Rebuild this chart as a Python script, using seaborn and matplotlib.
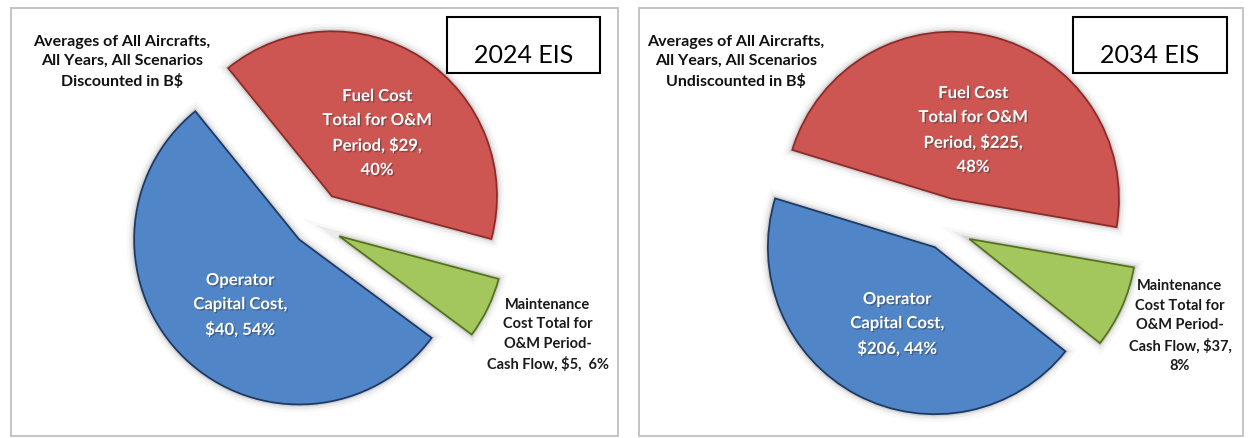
import matplotlib
matplotlib.use("Agg")
import matplotlib.pyplot as plt
import matplotlib.patheffects as pe
from matplotlib.patches import Rectangle
import seaborn as sns

sns.set_theme(style="white")
plt.rcParams["font.family"] = ["Lato", "DejaVu Sans"]

# O&M cost breakdown (B$) and shares for the two entry-into-service years
years = ["2024 EIS", "2034 EIS"]
basis = ["Discounted", "Undiscounted"]
cost_items = ["Fuel Cost", "Maintenance Cost", "Operator Capital Cost"]
costs_2024 = [29, 5, 40]
shares_2024 = [40, 6, 54]
costs_2034 = [225, 37, 206]
shares_2034 = [48, 8, 44]

fills = ["#CD5552", "#A3C65D", "#5086C8"]
edges = ["#8E2B28", "#55731F", "#1E3A64"]

W, H = 1249, 439
fig = plt.figure(figsize=(W / 100, H / 100), dpi=100)
ax = fig.add_axes([0, 0, 1, 1])


def Y(y):
    """Convert a top-down pixel row into the axes' bottom-up coordinate."""
    return H - y


panels = [
    dict(x0=11, x1=618, costs=costs_2024, shares=shares_2024, year=years[0],
         basis=basis[0], center=(314, 225), radius=165, start=129,
         explode=[0.2, 0.17, 0.13], box=(447, 600), title_x=122,
         fuel_xy=(377, 134), maint_xy=(548, 335), op_xy=(240, 306),
         maint_split=False),
    dict(x0=639, x1=1243, costs=costs_2034, shares=shares_2034, year=years[1],
         basis=basis[1], center=(945, 229), radius=167, start=163,
         explode=[0.18, 0.16, 0.13], box=(1073, 1227), title_x=736,
         fuel_xy=(973, 131), maint_xy=(1180, 326), op_xy=(897, 325),
         maint_split=True),
]

glow = [pe.Stroke(linewidth=11, foreground="#a0a0a0", alpha=0.07),
        pe.Stroke(linewidth=7, foreground="#8a8a8a", alpha=0.11),
        pe.Stroke(linewidth=3.5, foreground="#707070", alpha=0.2),
        pe.Normal()]
text_shadow = [pe.withSimplePatchShadow(offset=(1, -1), shadow_rgbFace="#333333", alpha=0.45)]

for p in panels:
    # panel frame
    ax.add_patch(Rectangle((p["x0"], Y(437)), p["x1"] - p["x0"], 437 - 9,
                           facecolor="white", edgecolor="#c4c4c4", linewidth=1.4, zorder=0))

    cx, cy = p["center"]
    R = p["radius"]
    wedges, _ = ax.pie(p["shares"], colors=fills, startangle=p["start"], counterclock=False,
                       radius=R, center=(cx, Y(cy)), explode=[e * R for e in p["explode"]],
                       frame=True, wedgeprops=dict(linewidth=1.3))
    for w, ec in zip(wedges, edges):
        w.set_edgecolor(ec)
        w.set_path_effects(glow)
        w.set_zorder(2)

    fuel, maint, oper = p["costs"]
    s_fuel, s_maint, s_oper = p["shares"]

    ax.text(p["fuel_xy"][0], Y(p["fuel_xy"][1]),
            f"Fuel Cost\nTotal for O&M\nPeriod, ${fuel},\n{s_fuel}%",
            ha="center", va="center", color="white", fontsize=12, fontweight="bold",
            linespacing=1.62, parse_math=False, path_effects=text_shadow, zorder=5)
    ax.text(p["op_xy"][0], Y(p["op_xy"][1]),
            f"Operator\nCapital Cost,\n${oper}, {s_oper}%",
            ha="center", va="center", color="white", fontsize=12, fontweight="bold",
            linespacing=1.62, parse_math=False, path_effects=text_shadow, zorder=5)
    tail = f"Cash Flow, ${maint},\n{s_maint}%" if p["maint_split"] else f"Cash Flow, ${maint},  {s_maint}%"
    ax.text(p["maint_xy"][0], Y(p["maint_xy"][1]),
            "Maintenance\nCost Total for\nO&M Period-\n" + tail,
            ha="center", va="center", color="#1a1a1a", fontsize=10.5, fontweight="bold",
            linespacing=1.5, parse_math=False, zorder=5)

    ax.text(p["title_x"], Y(62),
            f"Averages of All Aircrafts,\nAll Years, All Scenarios\n{p['basis']} in B$",
            ha="center", va="center", color="#111111", fontsize=11.5, fontweight="bold",
            linespacing=1.5, parse_math=False, zorder=5)

    bx0, bx1 = p["box"]
    ax.add_patch(Rectangle((bx0, Y(74)), bx1 - bx0, 74 - 18, facecolor="white",
                           edgecolor="black", linewidth=1.5, zorder=6))
    ax.text((bx0 + bx1) / 2, Y(55), p["year"], ha="center", va="center",
            fontsize=18, color="black", zorder=7)

ax.set_xlim(0, W)
ax.set_ylim(0, H)
ax.set_aspect("auto")
ax.set_axis_off()

fig.savefig("out.png", dpi=100, facecolor="white")
